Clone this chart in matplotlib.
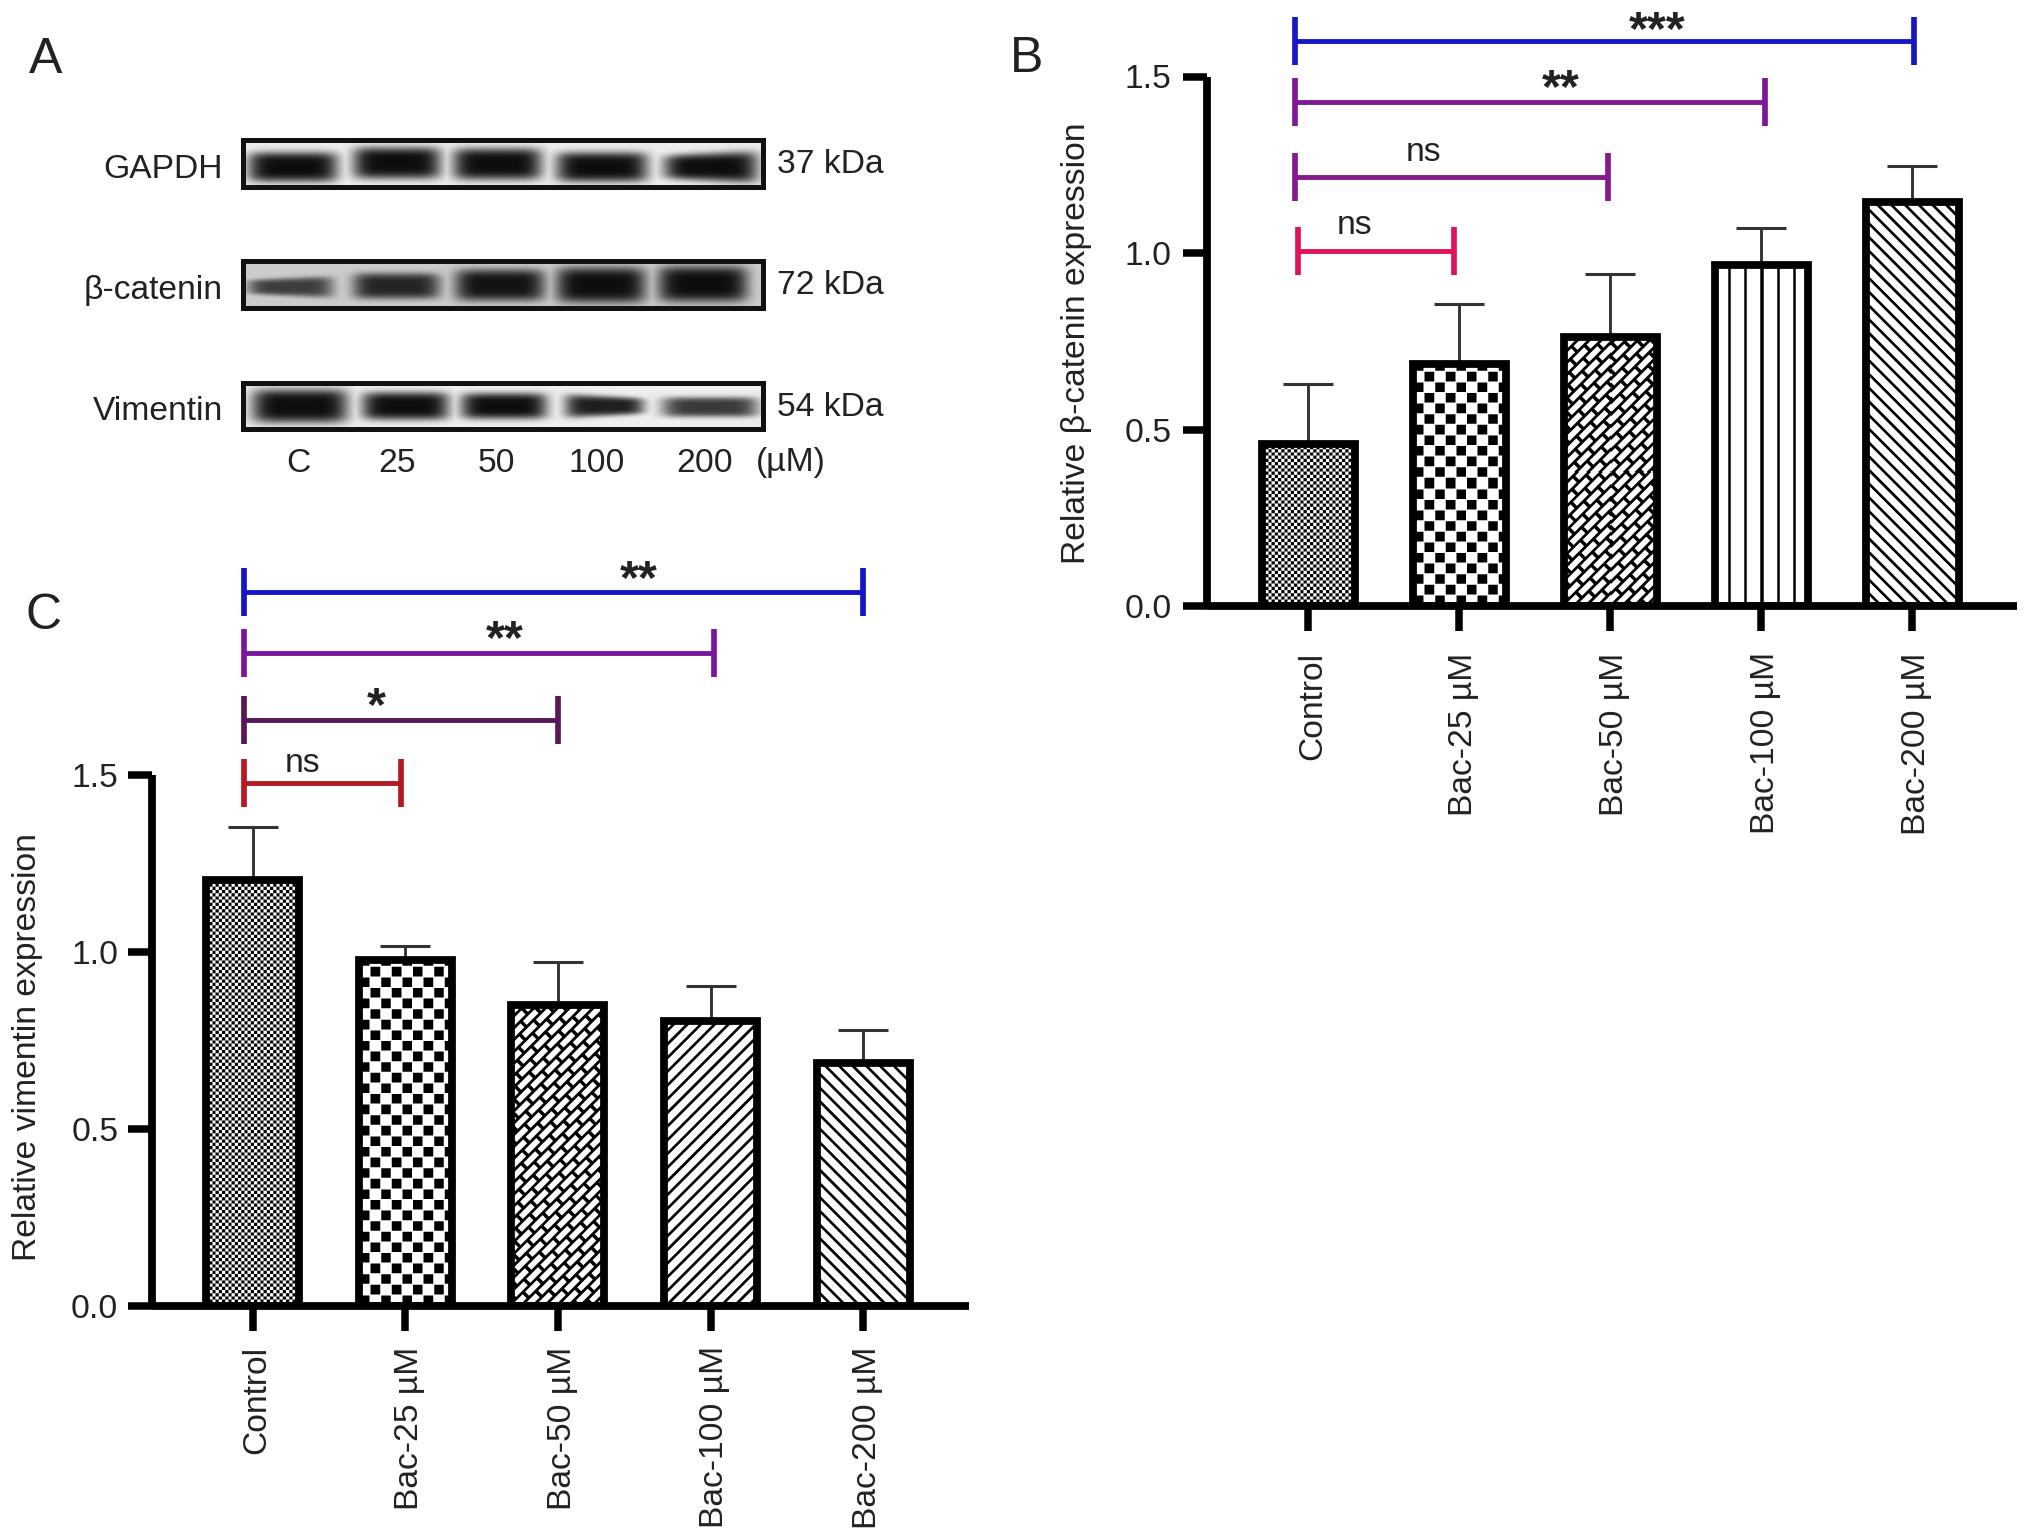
import numpy as np
import matplotlib
matplotlib.use("Agg")
import matplotlib.pyplot as plt
from matplotlib.transforms import ScaledTranslation

plt.rcParams['font.family'] = ['Liberation Sans', 'DejaVu Sans']

W, H = 2032, 1539
TEXT = '#222222'
FS = 24.2

# ---- bar data ----
groups = ['Control', 'Bac-25 µM', 'Bac-50 µM', 'Bac-100 µM', 'Bac-200 µM']
b_means = [0.46, 0.685, 0.762, 0.967, 1.145]
b_tops = [0.63, 0.857, 0.942, 1.072, 1.247]
c_means = [1.203, 0.976, 0.849, 0.805, 0.686]
c_tops = [1.353, 1.018, 0.972, 0.905, 0.78]
y_ticks = [0.0, 0.5, 1.0, 1.5]
b_patterns = ['fine', 'check', 'brick', 'vert', 'back']
c_patterns = ['fine', 'check', 'brick', 'fwd', 'back']

# ---- significance brackets: left, right, height (data units), colour ----
b_left = [-0.086, -0.086, -0.086, -0.066]
b_right = [4.013, 3.026, 1.985, 0.967]
b_level = [1.601, 1.428, 1.216, 1.006]
b_colors = ['#1616c4', '#7c1a96', '#841a8c', '#e0125e']
b_sig = ['***', '**', 'ns', 'ns']
b_sig_x = [2.311, 1.671, 0.768, 0.305]
b_sig_y = [1.591, 1.427, 1.261, 1.054]

c_left = [-0.055, -0.055, -0.055, -0.055]
c_right = [3.999, 3.024, 1.999, 0.972]
c_level = [2.016, 1.845, 1.655, 1.477]
c_colors = ['#1414c8', '#7a169e', '#581858', '#b41a22']
c_sig = ['**', '**', '*', 'ns']
c_sig_x = [2.531, 1.653, 0.813, 0.328]
c_sig_y = [2.014, 1.844, 1.655, 1.508]

# ---- western blot ----
blot_names = ['GAPDH', 'β-catenin', 'Vimentin']
blot_sizes = ['37 kDa', '72 kDa', '54 kDa']
blot_tops = [140, 261, 383]
blot_bottoms = [187, 308, 429]
blot_bg = [0.93, 0.80, 0.93]
lane_labels = ['C', '25', '50', '100', '200', '(µM)']
lane_label_x = [298, 397, 496, 597, 705, 791]
# band left, band right, band centre, half height, strength, taper
gapdh_bands = [(248, 338, 167, 15, 1.0, 0), (353, 441, 163, 16, 1.0, 0), (453, 542, 164, 16, 1.0, 0),
               (556, 648, 167, 15, 1.0, 0), (664, 758, 167, 14, 1.0, 0.15)]
catenin_bands = [(248, 333, 287, 9, 0.75, 0.2), (353, 440, 286, 13, 0.88, 0), (455, 545, 285, 16, 0.97, 0),
                 (556, 646, 285, 18, 1.0, 0), (658, 748, 284, 18, 1.0, 0)]
vimentin_bands = [(252, 348, 406, 17, 1.0, 0), (362, 449, 406, 14, 1.0, 0), (461, 547, 406, 13, 1.0, 0),
                  (565, 644, 406, 10, 0.92, -0.2), (662, 758, 407, 10, 0.8, 0)]
all_bands = [gapdh_bands, catenin_bands, vimentin_bands]


def px_axes(fig, left, top, right, bottom):
    return fig.add_axes([left / W, 1 - bottom / H, (right - left) / W, (bottom - top) / H])


def pattern(kind, w, h):
    # pattern is worked out at 4x and averaged down so that edges look soft
    s = 4
    xx, yy = np.meshgrid((np.arange(w * s) + 0.5) / s, (np.arange(h * s) + 0.5) / s)
    yy = yy[::-1]
    if kind == 'fine':
        p = ((np.floor(xx / 3.2) + np.floor(yy / 3.2)) % 2 == 0)
    elif kind == 'check':
        p = ((np.floor(xx / 10.6) + np.floor(yy / 10.6)) % 2 == 0)
        p &= (xx % 10.6 > 1.0) & (yy % 10.6 > 1.0)
    elif kind == 'brick':
        u = (xx + yy) / np.sqrt(2)
        v = (xx - yy) / np.sqrt(2)
        row = np.floor(v / 8.4)
        white = (v % 8.4 < 5.6) & ((u + row * 10.0) % 20.0 < 16.5)
        p = ~white
    elif kind == 'vert':
        p = np.abs((xx - w / 2 + 8) % 16 - 8) < 1.25
    elif kind == 'fwd':
        p = (xx - yy) % 13.7 < 3.8
    else:
        p = (xx + yy) % 13.7 < 3.8
    img = 1.0 - p.astype(float)
    img = img.reshape(h, s, w, s).mean(axis=(1, 3))
    return img


def bar_panel(fig, box, means, tops, kinds, ylabel, lefts, rights, levels, colors, sig, sig_x, sig_y,
              x0, step, pad_x, pad_y, label_xy):
    left, top, right, bottom = box
    ax = px_axes(fig, left, top, right, bottom)
    xlim = ((left - x0) / step, (right - x0) / step)
    x = np.arange(len(groups))
    width = 93 / step
    unit = (bottom - top) / 1.5

    ax.errorbar(x, means, yerr=[np.zeros(5), np.array(tops) - np.array(means)], fmt='none',
                ecolor='#333333', elinewidth=2.1, capsize=18, capthick=2.2, zorder=2)
    bars = ax.bar(x, means, width=width, facecolor='none', edgecolor='black', linewidth=5.6, zorder=4)
    for b, kind in zip(bars, kinds):
        w_px = int(round(b.get_width() * step))
        h_px = int(round(b.get_height() * unit))
        ax.imshow(pattern(kind, w_px, h_px), cmap='gray', vmin=0, vmax=1, aspect='auto', zorder=3,
                  extent=[b.get_x(), b.get_x() + b.get_width(), 0, b.get_height()],
                  interpolation='nearest')
    ax.set_xlim(xlim)
    ax.set_ylim(0, 1.5)

    for s in ['top', 'right']:
        ax.spines[s].set_visible(False)
    for s in ['left', 'bottom']:
        ax.spines[s].set_linewidth(5.6)
        ax.spines[s].set_capstyle('butt')
        ax.spines[s].set_zorder(6)
    ax.set_yticks(y_ticks)
    ax.set_yticklabels(['%.1f' % t for t in y_ticks], fontsize=FS, color=TEXT)
    ax.set_xticks(x)
    ax.set_xticklabels(groups, rotation=90, fontsize=FS, color=TEXT, ha='center', va='top')
    ax.tick_params(axis='y', length=17, width=5.4, pad=pad_y)
    ax.tick_params(axis='x', length=18, width=5.4, pad=pad_x)
    ax.patch.set_alpha(0)
    shift = ScaledTranslation(4.5 / 100, 0, fig.dpi_scale_trans)
    for lab in ax.get_xticklabels():
        lab.set_transform(lab.get_transform() + shift)

    # brackets
    for a, c, y, col in zip(lefts, rights, levels, colors):
        ax.plot([a, c], [y, y], color=col, lw=3.5, clip_on=False, solid_capstyle='butt', zorder=5)
        for end in (a, c):
            ax.plot([end, end], [y - 0.068, y + 0.068], color=col, lw=4.1, clip_on=False,
                    solid_capstyle='butt', zorder=5)
    for t, tx, ty in zip(sig, sig_x, sig_y):
        if '*' in t:
            ax.text(tx, ty, t, ha='center', va='baseline', fontsize=35, fontweight='bold', color=TEXT, clip_on=False)
        else:
            ax.text(tx, ty, t, ha='center', va='baseline', fontsize=FS, color=TEXT, clip_on=False)
    fig.text(label_xy[0] / W, 1 - label_xy[1] / H, ylabel, rotation=90, fontsize=FS, color=TEXT,
             ha='center', va='center')
    return ax


def blot_image(bands, left, right, top, bottom, bg):
    xx, yy = np.meshgrid(np.arange(left, right) + 0.5, np.arange(top, bottom) + 0.5)
    dark = np.zeros_like(xx)
    for x0, x1, yc, hh, amp, taper in bands:
        cx = (x0 + x1) / 2
        hw = (x1 - x0) / 2
        u = (xx - cx) / hw
        hh_x = hh * (1 + taper * np.clip(u, -1, 1))
        d = amp * np.exp(-np.abs(u) ** 6) * np.exp(-np.abs((yy - yc) / hh_x) ** 4)
        dark = np.maximum(dark, d)
    return bg * (1 - dark) + 0.05 * dark


fig = plt.figure(figsize=(W / 100, H / 100), dpi=100, facecolor='white')

# panel A
for name, size, t, b, bg, bands in zip(blot_names, blot_sizes, blot_tops, blot_bottoms, blot_bg, all_bands):
    ax = px_axes(fig, 243, t, 763, b)
    ax.imshow(blot_image(bands, 243, 763, t, b, bg), cmap='gray', vmin=0, vmax=1, aspect='auto', interpolation='bilinear')
    ax.set_xticks([])
    ax.set_yticks([])
    for s in ax.spines.values():
        s.set_linewidth(3.6)
        s.set_color('#111111')
    y_mid = 1 - ((t + b) / 2 + 3) / H
    fig.text(223 / W, y_mid - 3 / H, name, ha='right', va='center', fontsize=FS, color=TEXT)
    fig.text(777 / W, y_mid + 2 / H, size, ha='left', va='center', fontsize=FS, color=TEXT)
for lab, lx in zip(lane_labels, lane_label_x):
    fig.text(lx / W, 1 - 463 / H, lab, ha='center', va='center', fontsize=FS, color=TEXT)

# panel B and C
bar_panel(fig, (1207, 76.5, 2017, 606.5), b_means, b_tops, b_patterns, 'Relative β-catenin expression',
          b_left, b_right, b_level, b_colors, b_sig, b_sig_x, b_sig_y, 1308, 151, 15, 8.5, (1077, 343))
bar_panel(fig, (151.7, 775, 969, 1306), c_means, c_tops, c_patterns, 'Relative vimentin expression',
          c_left, c_right, c_level, c_colors, c_sig, c_sig_x, c_sig_y, 252.7, 152.6, 11, 7, (28, 1047))

# panel letters
fig.text(46 / W, 1 - 60 / H, 'A', fontsize=36, color=TEXT, ha='center', va='center')
fig.text(1027 / W, 1 - 59 / H, 'B', fontsize=36, color=TEXT, ha='center', va='center')
fig.text(44 / W, 1 - 616 / H, 'C', fontsize=36, color=TEXT, ha='center', va='center')

fig.savefig('out.png', dpi=100)
